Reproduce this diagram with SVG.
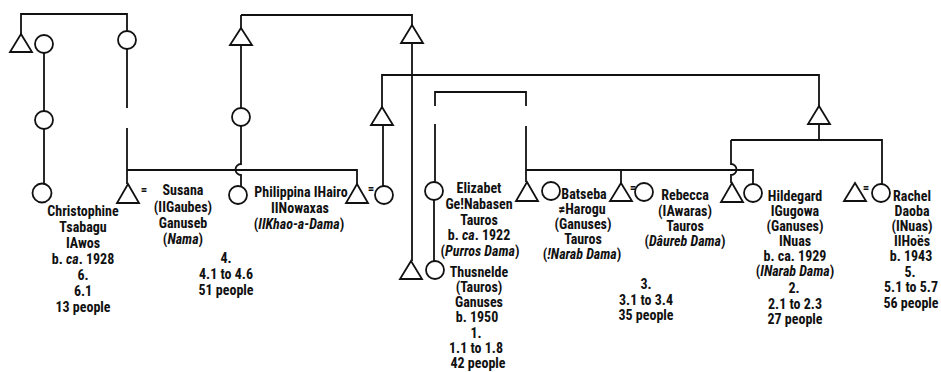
<svg xmlns="http://www.w3.org/2000/svg" width="941" height="372" viewBox="0 0 941 372">
<style>
.s{fill:#fff;stroke:#111;stroke-width:1.8}
.l{fill:none;stroke:#111;stroke-width:1.8}
text{font-family:"Liberation Sans Narrow","Roboto Condensed","DejaVu Sans Condensed","Liberation Sans",sans-serif;font-weight:bold;font-size:14px;fill:#111;text-anchor:middle}
.i{font-style:italic}
.eq{font-size:13px}
</style>
<rect width="941" height="372" fill="#fff"/>
<g id="connectors" class="l">
<path d="M21,34 V14 H127 V31"/>
<path d="M44,53 V111"/>
<path d="M44,129 V184"/>
<path d="M127,49 V108"/>
<path d="M127,128 V184"/>
<path d="M127,170 H357 V184"/>
<path d="M241,15 H412 V25"/>
<path d="M241,15 V28"/>
<path d="M241,45 V108"/>
<path d="M241,126 V164 a5,5 0 0 0 0,11 V186"/>
<path d="M412,43 V261"/>
<path d="M382,107 V75 H819 V106"/>
<path d="M383,125 V186"/>
<path d="M819,124 V140"/>
<path d="M731,140 H882 V184"/>
<path d="M731,140 V164 a5,5 0 0 1 0,11 V183"/>
<path d="M435,106 V92 H526 V106"/>
<path d="M435,124 V182"/>
<path d="M526,126 V182"/>
<path d="M526,170 H753 V184"/>
<path d="M621,170 V183"/>
<path d="M434,200 V261"/>
</g>
<g id="n_t1"><path class="s" d="M21,34 L32,52 L10,52 Z"/></g>
<g id="n_c1"><circle class="s" cx="44" cy="44" r="9"/></g>
<g id="n_c2"><circle class="s" cx="127" cy="40" r="9"/></g>
<g id="n_c3"><circle class="s" cx="44" cy="120" r="9"/></g>
<g id="n_t_top2"><path class="s" d="M241,28 L252,45 L230,45 Z"/></g>
<g id="n_c_mid2"><circle class="s" cx="241" cy="117" r="9"/></g>
<g id="n_t_top3"><path class="s" d="M412,25 L423,43 L401,43 Z"/></g>
<g id="n_t_mid3"><path class="s" d="M382,107 L393,125 L371,125 Z"/></g>
<g id="n_t_right"><path class="s" d="M819,106 L830,124 L808,124 Z"/></g>
<g id="n_christophine">
<circle class="s" cx="42" cy="193" r="9.5"/>
<text x="83" y="216">Christophine</text>
<text x="83" y="232">Tsabagu</text>
<text x="83" y="248">IAwos</text>
<text x="83" y="264">b. <tspan class="i">ca</tspan>. 1928</text>
<text x="83" y="280">6.</text>
<text x="83" y="296">6.1</text>
<text x="83" y="312">13 people</text>
</g>
<g id="n_susana">
<path class="s" d="M128,184 L139,203 L117,203 Z"/>
<text class="eq" x="144" y="194">=</text>
<text x="183" y="195">Susana</text>
<text x="183" y="212">(IIGaubes)</text>
<text x="183" y="228">Ganuseb</text>
<text x="183" y="244">(<tspan class="i">Nama</tspan>)</text>
<text x="226" y="263">4.</text>
<text x="226" y="279">4.1 to 4.6</text>
<text x="226" y="295">51 people</text>
</g>
<g id="n_philippina">
<circle class="s" cx="238" cy="195" r="9"/>
<text x="301" y="197">Philippina IHairo</text>
<text x="300" y="213">IINowaxas</text>
<text x="299" y="229">(<tspan class="i">IIKhao-a-Dama</tspan>)</text>
</g>
<g id="n_philippina_husband">
<path class="s" d="M357,184 L368,203 L346,203 Z"/>
<text class="eq" x="371" y="193">=</text>
<circle class="s" cx="384" cy="195" r="9"/>
</g>
<g id="n_elizabet">
<circle class="s" cx="434" cy="191" r="9"/>
<text x="479" y="193">Elizabet</text>
<text x="479" y="209">Ge!Nabasen</text>
<text x="479" y="225">Tauros</text>
<text x="479" y="240">b. <tspan class="i">ca</tspan>. 1922</text>
<text x="480" y="256">(<tspan class="i">Purros Dama</tspan>)</text>
</g>
<g id="n_thusnelde">
<path class="s" d="M411,261 L422,279 L400,279 Z"/>
<circle class="s" cx="435" cy="270" r="9"/>
<text x="479" y="277">Thusnelde</text>
<text x="479" y="292">(Tauros)</text>
<text x="479" y="307">Ganuses</text>
<text x="477" y="322">b. 1950</text>
<text x="476" y="338">1.</text>
<text x="476" y="353">1.1 to 1.8</text>
<text x="478" y="368">42 people</text>
</g>
<g id="n_elizabet_husband"><path class="s" d="M527,182 L538,201 L516,201 Z"/></g>
<g id="n_batseba">
<circle class="s" cx="551" cy="191" r="9"/>
<text x="584" y="199">Batseba</text>
<text x="582" y="214">≠Harogu</text>
<text x="583" y="229">(Ganuses)</text>
<text x="583" y="244">Tauros</text>
<text x="582" y="259">(<tspan class="i">!Narab Dama</tspan>)</text>
</g>
<g id="n_rebecca">
<path class="s" d="M621,183 L632,201 L610,201 Z"/>
<text class="eq" x="633" y="192">=</text>
<circle class="s" cx="644" cy="192" r="9"/>
<text x="685" y="200">Rebecca</text>
<text x="685" y="216">(IAwaras)</text>
<text x="685" y="231">Tauros</text>
<text x="685" y="246">(<tspan class="i">Dâureb Dama</tspan>)</text>
<text x="646" y="289">3.</text>
<text x="646" y="305">3.1 to 3.4</text>
<text x="646" y="320">35 people</text>
</g>
<g id="n_hildegard">
<path class="s" d="M732,183 L743,202 L721,202 Z"/>
<circle class="s" cx="753" cy="193" r="9"/>
<text x="795" y="201">Hildegard</text>
<text x="795" y="216">IGugowa</text>
<text x="795" y="231">(Ganuses)</text>
<text x="795" y="246">INuas</text>
<text x="795" y="261">b. ca. 1929</text>
<text x="795" y="276">(<tspan class="i">INarab Dama</tspan>)</text>
<text x="794" y="293">2.</text>
<text x="795" y="309">2.1 to 2.3</text>
<text x="795" y="324">27 people</text>
</g>
<g id="n_rachel">
<path class="s" d="M855,183 L866,201 L844,201 Z"/>
<text class="eq" x="866" y="192">=</text>
<circle class="s" cx="881" cy="193" r="9"/>
<text x="912" y="201">Rachel</text>
<text x="912" y="216">Daoba</text>
<text x="912" y="231">(INuas)</text>
<text x="912" y="246">IIHoës</text>
<text x="911" y="261">b. 1943</text>
<text x="910" y="277">5.</text>
<text x="911" y="292">5.1 to 5.7</text>
<text x="911" y="308">56 people</text>
</g>
</svg>
